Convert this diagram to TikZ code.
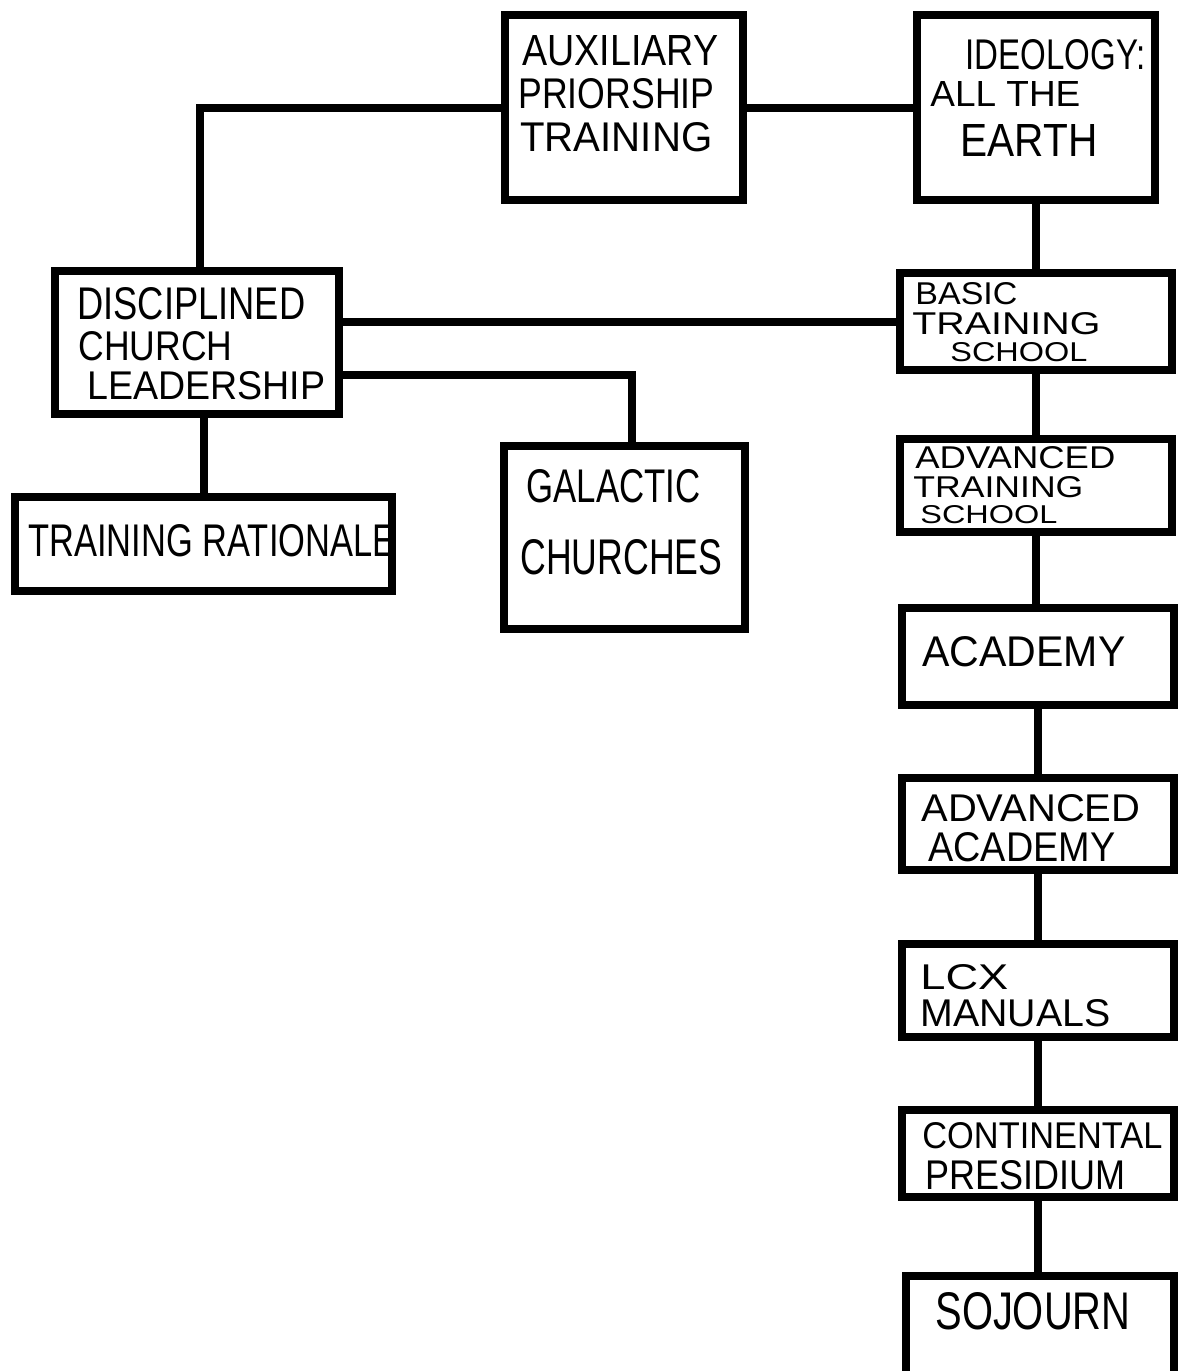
\documentclass[tikz,border=0pt]{standalone}
\usepackage{fontspec}
\setmainfont{Liberation Sans}
\usetikzlibrary{fit}
\tikzset{
  box/.style={draw=black, line width=4pt, inner sep=0pt, rectangle},
  conn/.style={draw=black, line width=4pt},
  lbl/.style={inner sep=0pt, anchor=south west}
}
% \hw{name}{x1}{y1}{x2}{y2}{text}: a handwritten-like line fitted in the pixel box
\newcommand{\hw}[6]{\node[lbl] (#1) at (#2,#5) {\resizebox{\dimexpr(#4pt-#2pt)/2\relax}{\dimexpr(#5pt-#3pt)/2\relax}{#6}};}
\begin{document}
\begin{tikzpicture}[x=0.5pt,y=-0.5pt]
\useasboundingbox (0,0) rectangle (1180,1371);
% boxes
\node[box, fit={(505,15) (743,200)}] (aux) {};
\node[box, fit={(917,15) (1155,200)}] (ideo) {};
\node[box, fit={(55,271) (339,414)}] (disc) {};
\node[box, fit={(900,273) (1172,370)}] (basic) {};
\node[box, fit={(900,439) (1172,532)}] (advts) {};
\node[box, fit={(15,497) (392,591)}] (rat) {};
\node[box, fit={(504,446) (745,629)}] (gal) {};
\node[box, fit={(902,608) (1174,705)}] (acad) {};
\node[box, fit={(902,778) (1174,870)}] (advac) {};
\node[box, fit={(902,944) (1174,1037)}] (lcx) {};
\node[box, fit={(902,1110) (1174,1197)}] (cont) {};
\node[box, fit={(906,1276) (1174,1390)}] (soj) {};
% texts
\hw{t1}{522}{36}{718}{66}{AUXILIARY}
\hw{t2}{518}{79}{714}{109}{PRIORSHIP}
\hw{t3}{520}{123}{712}{152}{TRAINING}
\hw{t4}{965}{40}{1145}{70}{IDEOLOGY:}
\hw{t5}{930}{82}{1080}{107}{ALL THE}
\hw{t6}{960}{125}{1097}{157}{EARTH}
\hw{t7}{77}{288}{305}{320}{DISCIPLINED}
\hw{t8}{78}{332}{232}{361}{CHURCH}
\hw{t9}{87}{372}{325}{400}{LEADERSHIP}
\hw{t10}{915}{283}{1017}{305}{BASIC}
\hw{t11}{912}{313}{1100}{335}{TRAINING}
\hw{t12}{950}{343}{1087}{362}{SCHOOL}
\hw{t13}{915}{447}{1115}{469}{ADVANCED}
\hw{t14}{913}{477}{1083}{498}{TRAINING}
\hw{t15}{920}{506}{1057}{524}{SCHOOL}
\hw{t16}{28}{525}{395}{557}{TRAINING RATIONALE}
\hw{t17}{526}{470}{700}{503}{GALACTIC}
\hw{t18}{520}{540}{722}{575}{CHURCHES}
\hw{t19}{922}{637}{1125}{667}{ACADEMY}
\hw{t20}{921}{795}{1140}{822}{ADVANCED}
\hw{t21}{928}{833}{1115}{862}{ACADEMY}
\hw{t22}{920}{965}{1008}{990}{LCX}
\hw{t23}{920}{1000}{1110}{1027}{MANUALS}
\hw{t24}{922}{1123}{1162}{1149}{CONTINENTAL}
\hw{t25}{925}{1161}{1125}{1190}{PRESIDIUM}
\hw{t26}{935}{1293}{1130}{1330}{SOJOURN}
% connectors
\coordinate (dtop) at (200,106);
\coordinate (gk) at (632,375);
\draw[conn] (disc.north -| dtop) |- (aux.west);
\draw[conn] (aux.east) -- (ideo.west);
\draw[conn] (ideo.south) -- (basic.north);
\draw[conn] (disc.east |- basic.west) -- (basic.west);
\draw[conn] (gal.north -| gk) |- (disc.east |- gk);
\draw[conn] (disc.south -| rat.north) -- (rat.north);
\draw[conn] (basic.south) -- (advts.north);
\draw[conn] (advts.south) -- (advts.south |- acad.north);
\draw[conn] (acad.south) -- (advac.north);
\draw[conn] (advac.south) -- (lcx.north);
\draw[conn] (lcx.south) -- (cont.north);
\draw[conn] (cont.south) -- (cont.south |- soj.north);
\end{tikzpicture}
\end{document}
